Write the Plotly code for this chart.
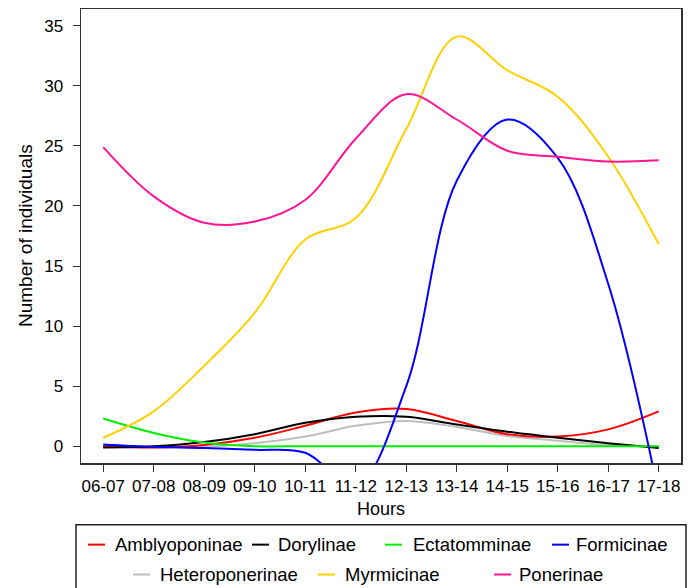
import plotly.graph_objects as go

hours = ["06-07", "07-08", "08-09", "09-10", "10-11", "11-12",
         "12-13", "13-14", "14-15", "15-16", "16-17", "17-18"]

amblyoponinae = [0.0, -0.1, 0.1, 0.7, 1.7, 2.8, 3.1, 2.1, 1.0, 0.8, 1.4, 2.9]
dorylinae = [-0.1, 0.0, 0.35, 1.0, 1.95, 2.45, 2.45, 1.8, 1.2, 0.7, 0.25, -0.15]
ectatomminae = [2.3, 1.1, 0.3, 0.0, 0.0, 0.0, 0.0, 0.0, 0.0, 0.0, 0.0, 0.0]
formicinae = [0.15, -0.05, -0.15, -0.3, -0.55, -3.3, 5.0, 22.1, 27.2, 24.0, 13.5, -4.0]
heteroponerinae = [0.05, -0.1, -0.05, 0.25, 0.8, 1.7, 2.1, 1.6, 0.85, 0.45, 0.1, 0.0]
myrmicinae = [0.7, 2.9, 6.7, 11.1, 17.2, 19.0, 26.4, 34.1, 31.3, 29.1, 24.1, 16.8]
ponerinae = [24.9, 20.8, 18.6, 18.7, 20.5, 25.6, 29.3, 27.2, 24.6, 24.1, 23.7, 23.8]

series_names = ["Amblyoponinae", "Dorylinae", "Ectatomminae", "Formicinae",
                "Heteroponerinae", "Myrmicinae", "Ponerinae"]
series_values = [amblyoponinae, dorylinae, ectatomminae, formicinae,
                 heteroponerinae, myrmicinae, ponerinae]
series_colors = ["#FF0000", "#000000", "#00EE00", "#0000FF",
                 "#BEBEBE", "#FFD000", "#FF1493"]

y_ticks = [0, 5, 10, 15, 20, 25, 30, 35]

FONT = "Liberation Sans, Arial, Helvetica, sans-serif"

# figure geometry (pixels)
W, H = 691, 588
L, R, T, B = 81, 10, 7, 125
PW, PH = W - L - R, H - T - B


def px_x(px):
    return (px - L) / PW


def px_y(py):
    return (H - B - py) / PH


fig = go.Figure()

draw_order = [4, 0, 1, 2, 3, 5, 6]
for i in draw_order:
    fig.add_trace(go.Scatter(
        x=list(range(len(hours))), y=series_values[i], name=series_names[i],
        mode="lines", line=dict(color=series_colors[i], width=2, shape="spline", smoothing=1),
        showlegend=False, hoverinfo="skip",
    ))

fig.update_layout(
    width=W, height=H,
    margin=dict(l=L, r=R, t=T, b=B),
    paper_bgcolor="white", plot_bgcolor="white",
    font=dict(family=FONT, color="black", size=17),
)

fig.update_xaxes(
    range=[-0.44, len(hours) - 1 + 0.44],
    tickvals=list(range(len(hours))), ticktext=hours,
    showgrid=False, zeroline=False,
    showline=True, linecolor="#333333", linewidth=1.5, mirror=True,
    ticks="outside", ticklen=7, tickcolor="#333333", tickwidth=1,
    tickfont=dict(size=17, family=FONT, color="black"),
)
fig.update_yaxes(
    range=[-1.4, 36.4],
    tickvals=y_ticks, ticktext=[str(v) for v in y_ticks],
    showgrid=False, zeroline=False,
    showline=True, linecolor="#333333", linewidth=1.5, mirror=True,
    ticks="outside", ticklen=7, tickcolor="#333333", tickwidth=1,
    tickfont=dict(size=17, family=FONT, color="black"),
    ticklabelstandoff=6,
)

annotations = [
    dict(text="Hours", x=px_x(381), y=px_y(509), xref="paper", yref="paper",
         showarrow=False, xanchor="center", yanchor="middle",
         font=dict(size=18, family=FONT, color="black")),
    dict(text="Number of individuals", x=px_x(25), y=px_y(235), xref="paper", yref="paper",
         showarrow=False, xanchor="center", yanchor="middle", textangle=-90,
         font=dict(size=19, family=FONT, color="black")),
]

shapes = [
    dict(type="rect", xref="paper", yref="paper",
         x0=px_x(76), x1=px_x(686), y0=px_y(610), y1=px_y(525),
         line=dict(color="#222222", width=1.5), fillcolor="rgba(0,0,0,0)"),
]

# legend layout: (series index, line start px, text start px, row center px)
legend_items = [
    (0, 88, 113, 545), (1, 252, 276, 545), (2, 385, 411, 545), (3, 552, 574, 545),
    (4, 133, 158, 575), (5, 318, 343, 575), (6, 494, 517, 575),
]
for idx, lx, tx, cy in legend_items:
    shapes.append(dict(type="line", xref="paper", yref="paper",
                       x0=px_x(lx), x1=px_x(lx + 17), y0=px_y(cy), y1=px_y(cy),
                       line=dict(color=series_colors[idx], width=2)))
    annotations.append(dict(text=series_names[idx], x=px_x(tx), y=px_y(cy),
                            xref="paper", yref="paper", showarrow=False,
                            xanchor="left", yanchor="middle",
                            font=dict(size=18.5, family=FONT, color="black")))

fig.update_layout(annotations=annotations, shapes=shapes)

fig.write_html("out.html",
               config={"displayModeBar": False, "staticPlot": True},
               post_script="document.body.style.margin='0px';document.body.style.overflow='hidden';")
